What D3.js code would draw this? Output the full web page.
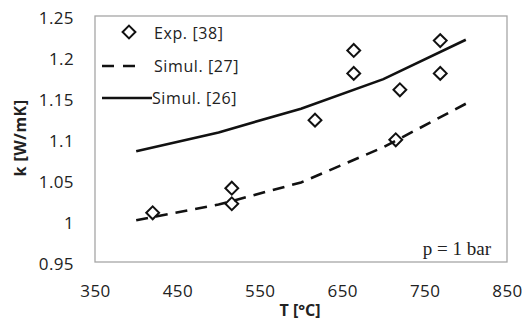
<!DOCTYPE html>
<html>
<head>
<meta charset="utf-8">
<script src="https://cdn.jsdelivr.net/npm/d3@7"></script>
<style>
  body { margin: 0; background: #fff; }
  text { font-family: "Open Sans", "Liberation Sans", sans-serif; }
</style>
</head>
<body>
<svg id="chart" width="525" height="325"></svg>
<script>
// experimental points
const expT = [420, 516, 516, 617, 664, 664, 715, 720, 769, 769];
const expK = [1.01, 1.04, 1.021, 1.123, 1.208, 1.18, 1.099, 1.16, 1.22, 1.18];
// simulation curves
const simT = [400, 500, 600, 700, 800];
const sim27 = [1.001, 1.02, 1.047, 1.09, 1.143];
const sim26 = [1.085, 1.108, 1.137, 1.173, 1.221];
const xTicks = [350, 450, 550, 650, 750, 850];
const yTicks = [0.95, 1, 1.05, 1.1, 1.15, 1.2, 1.25];

const svg = d3.select('#chart');
const mLeft = 95, mRight = 507, mTop = 16, mBottom = 262;
const font = '"Open Sans", "Liberation Sans", sans-serif';

const x = d3.scaleLinear().domain([350, 850]).range([mLeft, mRight]);
const y = d3.scaleLinear().domain([0.95, 1.25]).range([mBottom, mTop]);

// frame
svg.append('rect')
  .attr('x', mLeft).attr('y', mTop)
  .attr('width', mRight - mLeft).attr('height', mBottom - mTop)
  .attr('fill', 'none').attr('stroke', '#a6a6a6').attr('stroke-width', 1.3);

// axes (labels only)
const xAxis = svg.append('g').attr('transform', `translate(0,${mBottom})`)
  .call(d3.axisBottom(x).tickValues(xTicks).tickSize(0).tickPadding(23));
const yAxis = svg.append('g').attr('transform', `translate(${mLeft},0)`)
  .call(d3.axisLeft(y).tickValues(yTicks).tickSize(0).tickPadding(21)
    .tickFormat(d => String(+d.toFixed(2))));
[xAxis, yAxis].forEach(a => {
  a.select('.domain').remove();
  a.selectAll('text').attr('font-size', 17).attr('fill', '#222')
    .attr('font-family', font).style('letter-spacing', '0.4px');
});
yAxis.selectAll('text').attr('dy', '0.45em');

// axis titles
svg.append('text')
  .attr('x', 300).attr('y', 316).attr('text-anchor', 'middle')
  .attr('font-size', 16).attr('font-weight', 'bold').attr('fill', '#222')
  .text('T [°C]');
svg.append('text')
  .attr('transform', `translate(26,138) rotate(-90)`)
  .attr('text-anchor', 'middle')
  .attr('font-size', 16).attr('font-weight', 'bold').attr('fill', '#222')
  .style('letter-spacing', '0.5px')
  .text('k [W/mK]');

const line = d3.line().x(d => x(d[0])).y(d => y(d[1]));

svg.append('path')
  .datum(simT.map((t, i) => [t, sim26[i]]))
  .attr('d', line)
  .attr('fill', 'none').attr('stroke', '#111').attr('stroke-width', 2.6);

svg.append('path')
  .datum(simT.map((t, i) => [t, sim27[i]]))
  .attr('d', line)
  .attr('fill', 'none').attr('stroke', '#111').attr('stroke-width', 2.6)
  .attr('stroke-dasharray', '12,8');

const diamond = d3.symbol().type(d3.symbolDiamond2).size(105);

svg.append('g').selectAll('path')
  .data(expT.map((t, i) => [t, expK[i]]))
  .join('path')
  .attr('transform', d => `translate(${x(d[0])},${y(d[1])})`)
  .attr('d', diamond)
  .attr('fill', 'none').attr('stroke', '#111').attr('stroke-width', 2);

// legend
const lg = svg.append('g');
lg.append('path').attr('transform', 'translate(129,32)').attr('d', diamond)
  .attr('fill', 'none').attr('stroke', '#111').attr('stroke-width', 2);
lg.append('line').attr('x1', 102).attr('x2', 140).attr('y1', 66).attr('y2', 66)
  .attr('stroke', '#111').attr('stroke-width', 2.6).attr('stroke-dasharray', '12,9');
lg.append('line').attr('x1', 102).attr('x2', 152).attr('y1', 98).attr('y2', 98)
  .attr('stroke', '#111').attr('stroke-width', 2.6);
[['Exp. [38]', 39, 154], ['Simul. [27]', 72, 154], ['Simul. [26]', 104, 152]].forEach(([t, yy, xx]) => {
  lg.append('text').attr('x', xx).attr('y', yy)
    .attr('font-size', 16).attr('fill', '#222')
    .style('letter-spacing', '0.6px').text(t);
});

// annotation
svg.append('text')
  .attr('x', 491).attr('y', 255).attr('text-anchor', 'end')
  .attr('font-size', 19).attr('fill', '#222')
  .style('font-family', '"Liberation Serif", "Times New Roman", serif')
  .text('p = 1 bar');
</script>
</body>
</html>
